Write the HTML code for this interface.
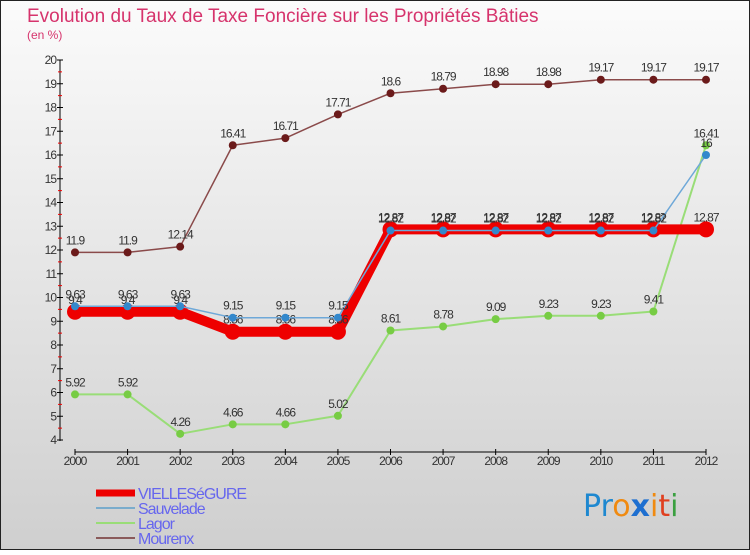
<!DOCTYPE html>
<html><head><meta charset="utf-8"><style>
body{margin:0;width:750px;height:550px;overflow:hidden;font-family:"Liberation Sans",sans-serif}
</style></head><body>
<svg id="c" width="750" height="550" xmlns="http://www.w3.org/2000/svg">
<defs><linearGradient id="bg" x1="0" y1="0" x2="0" y2="1"><stop offset="0" stop-color="#fbfbfb"/><stop offset="1" stop-color="#cfcfcf"/></linearGradient></defs>
<rect x="0.5" y="0.5" width="749" height="549" fill="url(#bg)" stroke="#222"/>
<text x="27" y="22" font-size="19" fill="#d6336c">Evolution du Taux de Taxe Foncière sur les Propriétés Bâties</text>
<text x="27" y="39" font-size="12" fill="#d6336c">(en %)</text>
<g id="axes"></g><g id="series"></g><g id="legend"></g>
<text x="583" y="516" font-size="30" font-family="DejaVu Sans"><tspan fill="#1e88d0">Pr</tspan><tspan fill="#f08a10">o</tspan><tspan fill="#1e6fd0" font-weight="bold">x</tspan><tspan fill="#f08a10">i</tspan><tspan fill="#e04020">t</tspan><tspan fill="#3aa040">i</tspan></text>
</svg>
<script>
const years=["2000","2001","2002","2003","2004","2005","2006","2007","2008","2009","2010","2011","2012"];
const yTicks=[4,5,6,7,8,9,10,11,12,13,14,15,16,17,18,19,20];
const vielle=[9.4,9.4,9.4,8.56,8.56,8.56,12.87,12.87,12.87,12.87,12.87,12.87,12.87];
const sauvelade=[9.63,9.63,9.63,9.15,9.15,9.15,12.82,12.82,12.82,12.82,12.82,12.82,16];
const lagor=[5.92,5.92,4.26,4.66,4.66,5.02,8.61,8.78,9.09,9.23,9.23,9.41,16.41];
const mourenx=[11.9,11.9,12.14,16.41,16.71,17.71,18.6,18.79,18.98,18.98,19.17,19.17,19.17];
const NS="http://www.w3.org/2000/svg";
const X=i=>75+i*(706-75)/12, Y=v=>440-(v-4)*(380/16);
function mk(t,a,p){const e=document.createElementNS(NS,t);for(const k in a)e.setAttribute(k,a[k]);p.appendChild(e);return e;}
const ax=document.getElementById('axes');
let l=mk('line',{x1:60,y1:60,x2:60,y2:441,stroke:'#000'},ax);
yTicks.forEach(v=>{mk('line',{x1:57,x2:63,y1:Y(v),y2:Y(v),stroke:'#000'},ax);
 if(v<20)mk('line',{x1:58,x2:62,y1:Y(v+0.5),y2:Y(v+0.5),stroke:'#e00'},ax);
 const t=mk('text',{x:56,y:Y(v)+4,'font-size':12,fill:'#333','text-anchor':'end','letter-spacing':'-1'},ax);t.textContent=v;
 });
l=mk('line',{x1:75,y1:452,x2:706,y2:452,stroke:'#000'},ax);
years.forEach((y,i)=>{mk('line',{x1:X(i),x2:X(i),y1:449,y2:455,stroke:'#000'},ax);
 const t=mk('text',{x:X(i),y:465,'font-size':12,fill:'#333','text-anchor':'middle','letter-spacing':'-1'},ax);t.textContent=y;
 });
const sg=document.getElementById('series');
function series(name,vals,color,dot,w,r,labelColor){
 const g=mk('g',{},sg);
 mk('polyline',{points:vals.map((v,i)=>X(i)+','+Y(v)).join(' '),fill:'none',stroke:color,'stroke-width':w,'stroke-linejoin':'round'},g);
 vals.forEach((v,i)=>{const c=mk('circle',{cx:X(i),cy:Y(v),r:r,fill:dot},g);
  const t=mk('text',{x:X(i),y:Y(v)-8,'font-size':12,fill:'#333','text-anchor':'middle','letter-spacing':'-1'},g);t.textContent=v;
  });
}
series('lagor',lagor,'#99dd77','#77cc44',2,4);
series('mourenx',mourenx,'#8a4a4a','#6b1a1a',1.5,4);
series('vielleségure',vielle,'#ee0000','#ee0000',10,8);
series('sauvelade',sauvelade,'#6ea8d8','#3388cc',1.5,4);
const lg=document.getElementById('legend');
[['VIELLESéGURE','#ee0000',7],['Sauvelade','#7aaccc',2],['Lagor','#99dd77',2],['Mourenx','#8a5a5a',2]].forEach((d,i)=>{
 const y=493+i*15;const g=mk('g',{},lg);
 mk('line',{x1:96,x2:135,y1:y,y2:y,stroke:d[1],'stroke-width':d[2]},g);
 const t=mk('text',{x:138,y:y+6,'font-size':16,fill:'#6666ee','letter-spacing':'-1'},g);t.textContent=d[0];});
</script>
</body></html>
